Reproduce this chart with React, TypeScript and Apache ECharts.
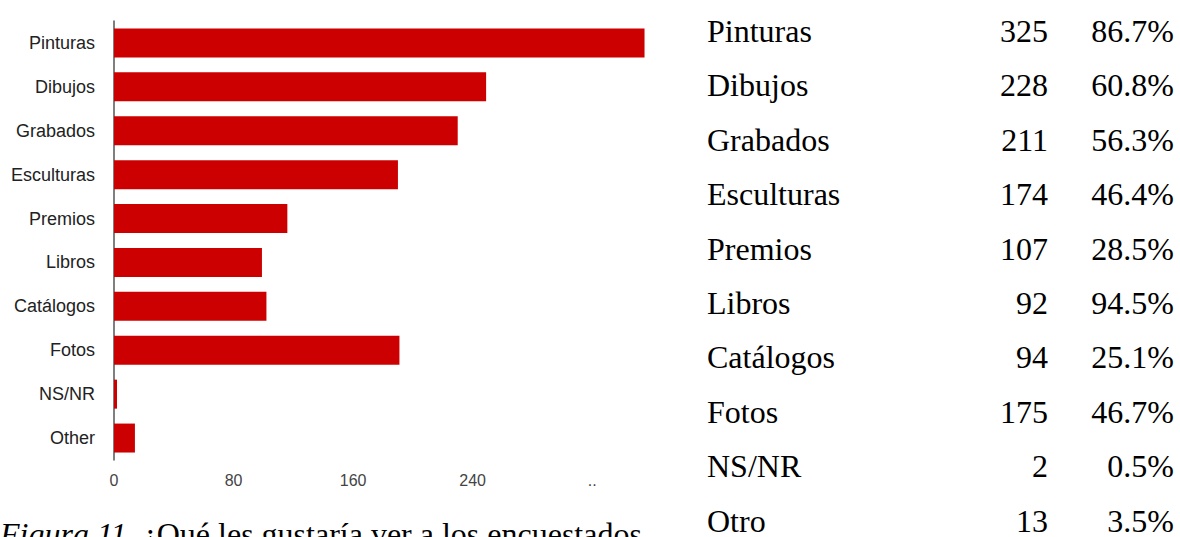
import React, { useEffect, useRef } from 'react';
import * as echarts from 'echarts';

const categories = ['Pinturas', 'Dibujos', 'Grabados', 'Esculturas', 'Premios', 'Libros', 'Catálogos', 'Fotos', 'NS/NR', 'Other'];
const barValues = [355, 249, 230, 190, 116, 99, 102, 191, 2, 14];
const axisMax = 360;
const axisStep = 80;
const truncatedTick = 320;

const tableLabels = ['Pinturas', 'Dibujos', 'Grabados', 'Esculturas', 'Premios', 'Libros', 'Catálogos', 'Fotos', 'NS/NR', 'Otro'];
const tableCounts = ['325', '228', '211', '174', '107', '92', '94', '175', '2', '13'];
const tablePercents = ['86.7%', '60.8%', '56.3%', '46.4%', '28.5%', '94.5%', '25.1%', '46.7%', '0.5%', '3.5%'];

const captionItalic = 'Figura 11.';
const captionText = '¿Qué les gustaría ver a los encuestados';

const SERIF = '"Liberation Serif", "Times New Roman", serif';
const SANS = '"Liberation Sans", Arial, sans-serif';

export default function App() {
  const ref = useRef<HTMLDivElement>(null);

  useEffect(() => {
    if (!ref.current) return;
    const chart = echarts.init(ref.current, undefined, { renderer: 'svg' });

    const tableFont = `32px ${SERIF}`;
    const rowTop = 31;
    const rowStep = 54.4;
    const tableGraphics: any[] = [];
    tableLabels.forEach((lab, i) => {
      const y = rowTop + i * rowStep;
      tableGraphics.push({
        type: 'text', x: 707, y,
        style: { text: lab, font: tableFont, fill: '#000', align: 'left', verticalAlign: 'middle' },
      });
      tableGraphics.push({
        type: 'text', x: 1048, y,
        style: { text: tableCounts[i], font: tableFont, fill: '#000', align: 'right', verticalAlign: 'middle' },
      });
      tableGraphics.push({
        type: 'text', x: 1174, y,
        style: { text: tablePercents[i], font: tableFont, fill: '#000', align: 'right', verticalAlign: 'middle' },
      });
    });

    const option: any = {
      animation: false,
      backgroundColor: '#ffffff',
      grid: { left: 114, top: 21, width: 538, height: 439, containLabel: false },
      xAxis: {
        type: 'value',
        min: 0,
        max: axisMax,
        interval: axisStep,
        axisLine: { show: false },
        axisTick: { show: false },
        splitLine: { show: false },
        axisLabel: {
          margin: 12,
          fontSize: 16,
          fontFamily: SANS,
          color: '#444',
          showMaxLabel: false,
          formatter: (v: number) => (v >= axisMax ? '' : v === truncatedTick ? '..' : String(v)),
        },
      },
      yAxis: {
        type: 'category',
        inverse: true,
        data: categories,
        axisLine: { show: true, lineStyle: { color: '#555', width: 1.5 } },
        axisTick: { show: false },
        axisLabel: { margin: 19, fontSize: 18, fontFamily: SANS, color: '#222' },
      },
      series: [
        {
          type: 'bar',
          data: barValues,
          barCategoryGap: '34%',
          itemStyle: { color: '#cc0000' },
        },
      ],
      graphic: [
        ...tableGraphics,
        {
          type: 'text',
          x: 0,
          y: 534,
          style: {
            text: `{i|${captionItalic}} {n|${captionText}}`,
            verticalAlign: 'middle',
            rich: {
              i: { font: `italic 32px ${SERIF}`, fill: '#000' },
              n: { font: `32px ${SERIF}`, fill: '#000' },
            },
            font: `32px ${SERIF}`,
            fill: '#000',
          },
        },
      ],
    };

    chart.setOption(option);
    return () => chart.dispose();
  }, []);

  return (
    <div
      ref={ref}
      style={{ position: 'fixed', left: 0, top: 0, width: 1180, height: 537, background: '#fff' }}
    />
  );
}
